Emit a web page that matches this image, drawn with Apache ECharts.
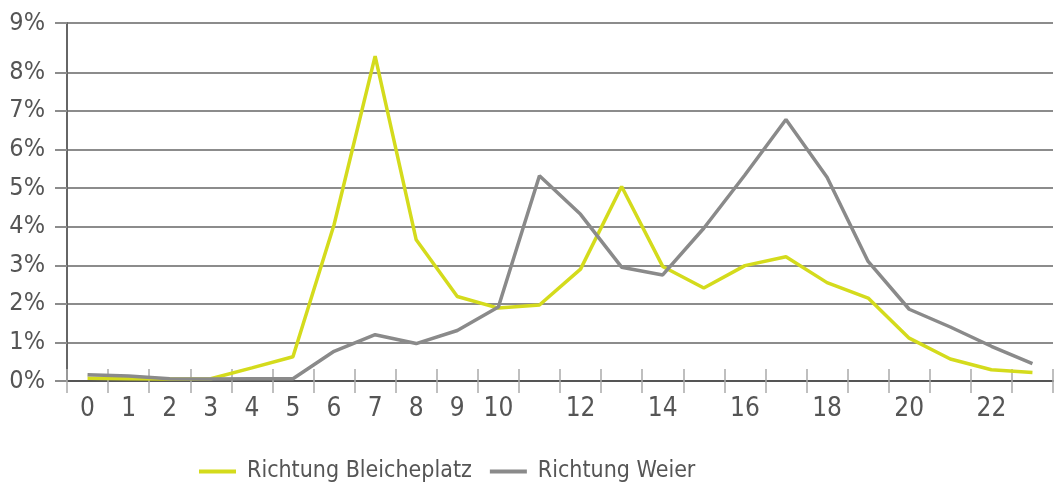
<!DOCTYPE html>
<html>
<head>
<meta charset="utf-8">
<script src="https://cdn.jsdelivr.net/npm/echarts@6/dist/echarts.min.js"></script>
<style>
html,body{margin:0;padding:0;background:#fff;}
#c{width:1057px;height:486px;}
</style>
</head>
<body>
<div id="c"></div>
<script>
const hours = ['0','1','2','3','4','5','6','7','8','9','10','11','12','13','14','15','16','17','18','19','20','21','22','23'];
const bleicheplatz = [0.07, 0.06, 0.05, 0.06, 0.34, 0.63, 4.05, 8.42, 3.66, 2.19, 1.89, 1.97, 2.90, 5.04, 2.97, 2.41, 2.99, 3.22, 2.55, 2.15, 1.11, 0.57, 0.29, 0.22];
const weier = [0.16, 0.13, 0.06, 0.05, 0.06, 0.06, 0.77, 1.20, 0.97, 1.31, 1.92, 5.32, 4.32, 2.95, 2.75, 3.96, 5.34, 6.78, 5.28, 3.10, 1.86, 1.40, 0.90, 0.45];
const seriesNames = ['Richtung Bleicheplatz', 'Richtung Weier'];
const yMax = 9.28;
const yTickValues = [0, 1, 2, 3, 4, 5, 6, 7, 8, yMax];
const yTickLabels = ['0%','1%','2%','3%','4%','5%','6%','7%','8%','9%'];

const FONT = "'DejaVu Sans Condensed', 'Liberation Sans Narrow', 'Liberation Sans', sans-serif";
const chart = echarts.init(document.getElementById('c'), null, {renderer: 'canvas'});
chart.setOption({
  animation: false,
  backgroundColor: '#ffffff',
  grid: {left: 67, right: 4, top: 23, bottom: 105, containLabel: false},
  legend: {
    left: 194, top: 455,
    itemWidth: 37, itemHeight: 4, itemGap: 18,
    icon: 'rect',
    textStyle: {fontFamily: FONT, fontSize: 23, color: '#555', padding: [0,0,0,6]},
    data: seriesNames
  },
  xAxis: [{
    type: 'category', data: hours, boundaryGap: true,
    axisLine: {lineStyle: {color: '#555', width: 2}},
    axisTick: {show: true, length: 12, interval: 0, lineStyle: {color: '#aaa', width: 1.5}},
    axisLabel: {
      interval: function (i) { return i <= 10 || i % 2 === 0; },
      fontFamily: FONT, fontSize: 26, color: '#555', margin: 15
    },
    splitLine: {show: false}
  }, {
    type: 'category', data: hours, boundaryGap: true, position: 'bottom',
    axisLine: {show: false},
    axisTick: {show: true, inside: true, length: 12, interval: 0, lineStyle: {color: '#aaa', width: 1.5}},
    axisLabel: {show: false},
    splitLine: {show: false}
  }],
  yAxis: {
    type: 'value', min: 0, max: yMax,
    axisLine: {show: true, lineStyle: {color: '#666', width: 2}},
    axisTick: {show: true, length: 12, customValues: yTickValues, lineStyle: {color: '#8c8c8c', width: 2}},
    axisLabel: {
      customValues: yTickValues,
      formatter: function (v) { return yTickLabels[yTickValues.indexOf(v)]; },
      fontFamily: FONT, fontSize: 25, color: '#555', margin: 22
    },
    splitLine: {show: true, lineStyle: {color: '#8c8c8c', width: 2}}
  },
  series: [{
    name: seriesNames[0], type: 'line', data: bleicheplatz, xAxisIndex: 0,
    symbol: 'none', smooth: false,
    lineStyle: {color: '#d4db1c', width: 3.5}, itemStyle: {color: '#d4db1c'}
  }, {
    name: seriesNames[1], type: 'line', data: weier, xAxisIndex: 0,
    symbol: 'none', smooth: false,
    lineStyle: {color: '#8a8a8a', width: 3.5}, itemStyle: {color: '#8a8a8a'}
  }]
});
</script>
</body>
</html>
